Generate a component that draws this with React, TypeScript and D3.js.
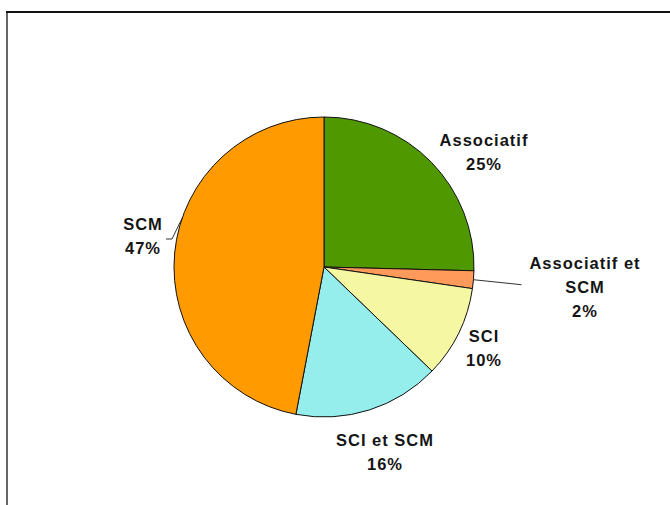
import React from 'react';
import * as d3 from 'd3';

const width = 670;
const height = 505;
const cx = 324;
const cy = 267;
const radius = 150;

const categories = ['Associatif', 'Associatif et SCM', 'SCI', 'SCI et SCM', 'SCM'];
const values = [25.4, 1.9, 9.9, 15.8, 47.0];
const colors = ['#509800', '#ff9a5a', '#f6f7a2', '#96eeec', '#ff9a00'];
// label lines and anchor positions (relative to pie centre)
const labelLines = [['Associatif', '25%'], ['Associatif et', 'SCM', '2%'], ['SCI', '10%'], ['SCI et SCM', '16%'], ['SCM', '47%']];
const labelPos = [[160, -121], [261, 2], [160, 75], [61, 179], [-181, -37]];

function App() {
  const pie = d3.pie<number>().sort(null).value(d => d);
  const arcs = pie(values);
  const arc = d3.arc<d3.PieArcDatum<number>>().innerRadius(0).outerRadius(radius);

  const edge = (a: number, r: number) => [Math.sin(a) * r, -Math.cos(a) * r];

  // leader for the small slice
  const smallMid = (arcs[1].startAngle + arcs[1].endAngle) / 2;
  const [sx, sy] = edge(smallMid, radius);
  const scmMid = (arcs[4].startAngle + arcs[4].endAngle) / 2;
  const [mx, my] = edge(scmMid + 0.24, radius);

  return (
    <svg width={width} height={height} style={{ position: 'absolute', left: 0, top: 0 }}>
      <line x1={7} y1={12} x2={7} y2={height} stroke="#666" strokeWidth={2} />
      <line x1={6} y1={12} x2={width} y2={12} stroke="#111" strokeWidth={2} />
      <g transform={`translate(${cx},${cy})`}>
        {arcs.map((a, i) => (
          <path key={categories[i]} d={arc(a) || ''} fill={colors[i]} stroke="#111" strokeWidth={1} />
        ))}
        <polyline points={`${sx},${sy} ${sx + 48},${sy + 5}`} fill="none" stroke="#333" strokeWidth={1} />
        <polyline points={`${-158},${-28} ${-152},${-28} ${mx},${my}`} fill="none" stroke="#333" strokeWidth={1} />
        {labelLines.map((lines, i) => (
          <text
            key={categories[i]}
            x={labelPos[i][0]}
            y={labelPos[i][1]}
            textAnchor="middle"
            fontFamily="'Liberation Sans', Arial, sans-serif"
            fontWeight="bold"
            fontSize={16.5}
            letterSpacing={1}
            fill="#151515"
          >
            {lines.map((l, j) => (
              <tspan key={j} x={labelPos[i][0]} dy={j === 0 ? 0 : 24}>{l}</tspan>
            ))}
          </text>
        ))}
      </g>
    </svg>
  );
}

export default App;
